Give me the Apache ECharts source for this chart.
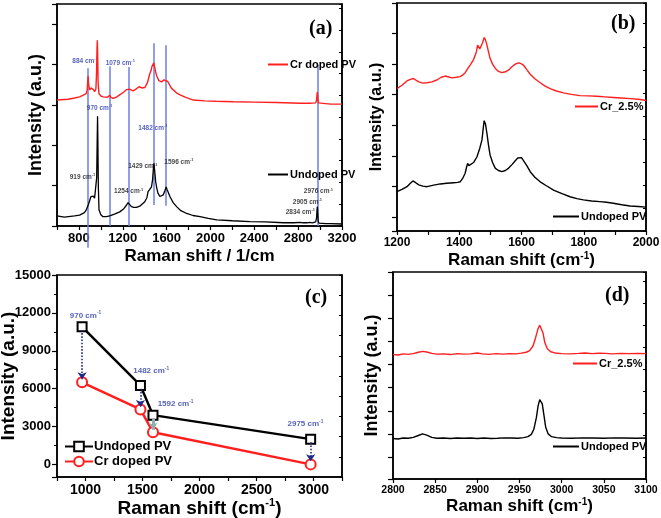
<!DOCTYPE html>
<html><head><meta charset="utf-8">
<script src="https://cdn.jsdelivr.net/npm/echarts@6/dist/echarts.min.js"></script>
<style>html,body{margin:0;padding:0;background:#fff}#c{width:661px;height:518px}</style>
</head><body><div id="c"></div><script>
// ---------- Panel (a): full Raman spectra (arbitrary offset units) ----------
const aUndoped = [[600,0.25],[667,0.22],[760,0.25],[806,0.27],[850,0.33],[867,0.40],[885,0.52],[897,0.62],[910,0.73],[919,0.77],[930,0.74],[943,0.69],[955,0.72],[962,1.2],[967,2.2],[970,2.72],[973,2.1],[977,1.0],[983,0.40],[1000,0.28],[1020,0.23],[1050,0.23],[1081,0.25],[1130,0.30],[1172,0.35],[1210,0.43],[1235,0.52],[1248,0.58],[1258,0.55],[1279,0.48],[1300,0.46],[1325,0.46],[1360,0.50],[1401,0.60],[1420,0.70],[1431,0.85],[1445,0.90],[1462,0.97],[1472,1.15],[1480,1.45],[1484,1.55],[1490,1.40],[1500,1.10],[1508,0.97],[1520,0.82],[1538,0.73],[1555,0.74],[1569,0.77],[1585,0.88],[1596,0.97],[1605,0.90],[1630,0.73],[1660,0.58],[1691,0.48],[1730,0.38],[1783,0.31],[1840,0.26],[1905,0.23],[1980,0.19],[2058,0.15],[2200,0.13],[2362,0.11],[2500,0.10],[2667,0.08],[2760,0.08],[2820,0.09],[2834,0.12],[2845,0.08],[2880,0.08],[2905,0.09],[2930,0.08],[2960,0.10],[2968,0.20],[2972,0.40],[2975,0.48],[2978,0.35],[2983,0.12],[2990,0.07],[3050,0.06],[3095,0.06],[3200,0.05]];
const aDoped = [[600,3.12],[700,3.14],[760,3.17],[806,3.20],[840,3.24],[867,3.28],[876,3.38],[880,3.58],[884,3.71],[888,3.52],[897,3.37],[910,3.42],[921,3.43],[932,3.38],[943,3.33],[955,3.40],[961,3.80],[965,4.40],[968,4.60],[971,4.25],[975,3.55],[983,3.28],[1000,3.22],[1020,3.20],[1060,3.19],[1075,3.21],[1081,3.24],[1090,3.19],[1111,3.16],[1140,3.19],[1172,3.25],[1210,3.32],[1235,3.38],[1248,3.41],[1262,3.39],[1294,3.35],[1320,3.39],[1349,3.45],[1375,3.42],[1401,3.43],[1425,3.55],[1447,3.78],[1458,3.85],[1466,3.95],[1476,3.98],[1483,4.04],[1490,3.95],[1500,3.82],[1508,3.73],[1530,3.60],[1554,3.57],[1575,3.62],[1593,3.66],[1610,3.58],[1645,3.41],[1690,3.30],[1722,3.25],[1780,3.18],[1844,3.12],[1950,3.10],[2050,3.09],[2210,3.08],[2400,3.07],[2600,3.06],[2820,3.04],[2900,3.04],[2960,3.05],[2968,3.12],[2972,3.25],[2975,3.32],[2979,3.18],[2985,3.05],[3000,3.03],[3095,3.02],[3200,3.02]];
const aGuideX = [884, 1079, 1254, 1482, 1596, 2976];
const aGuideTop = [3.91, 3.96, 3.94, 4.53, 4.48, 3.99];
const aGuideBottom = [-0.54, 0, 0, 0.52, 0.50, 0];
const aNoteText = ['884', '1079', '970', '1482', '919', '1429', '1596', '1254', '2976', '2905', '2834'];
const aNoteX = [856, 1177, 989, 1475, 833, 1383, 1712, 1254, 2985, 2885, 2820];
const aNoteY = [4.08, 4.03, 2.93, 2.42, 1.22, 1.47, 1.58, 0.85, 0.85, 0.58, 0.34];
const aNoteBlue = [true, true, true, true, false, false, false, false, false, false, false];

// ---------- Panel (b): 1200-2000 cm-1 zoom ----------
const bDoped = [[1200,4.20],[1216,4.31],[1232,4.45],[1243,4.50],[1253,4.53],[1262,4.47],[1270,4.42],[1283,4.38],[1296,4.39],[1312,4.42],[1328,4.48],[1342,4.57],[1355,4.61],[1366,4.58],[1376,4.55],[1390,4.57],[1403,4.59],[1412,4.65],[1419,4.72],[1427,4.85],[1435,4.97],[1446,5.15],[1455,5.40],[1459,5.62],[1462,5.68],[1466,5.50],[1470,5.46],[1475,5.70],[1480,5.87],[1484,5.80],[1489,5.62],[1494,5.40],[1499,5.19],[1507,5.00],[1516,4.86],[1526,4.76],[1537,4.72],[1548,4.75],[1558,4.80],[1570,4.92],[1580,5.00],[1590,5.04],[1598,5.02],[1606,4.97],[1617,4.82],[1628,4.67],[1643,4.52],[1660,4.39],[1676,4.28],[1692,4.20],[1712,4.12],[1735,4.06],[1760,4.01],[1788,3.97],[1815,3.96],[1842,3.95],[1868,3.93],[1895,3.91],[1922,3.89],[1949,3.87],[1975,3.85],[1997,3.82],[2000,3.82]];
const bUndoped = [[1200,0.83],[1216,0.90],[1232,0.99],[1243,1.10],[1251,1.18],[1260,1.12],[1270,1.05],[1283,1.01],[1296,0.99],[1318,1.04],[1339,1.08],[1360,1.10],[1382,1.12],[1395,1.13],[1403,1.15],[1412,1.28],[1419,1.43],[1424,1.65],[1427,1.75],[1431,1.68],[1435,1.64],[1446,1.78],[1457,1.97],[1466,2.25],[1473,2.52],[1477,2.90],[1480,3.15],[1484,3.05],[1489,2.73],[1494,2.35],[1499,2.03],[1507,1.78],[1516,1.59],[1526,1.52],[1537,1.48],[1548,1.52],[1558,1.59],[1570,1.72],[1580,1.84],[1588,1.93],[1594,1.97],[1600,1.94],[1606,1.88],[1617,1.68],[1628,1.48],[1643,1.30],[1660,1.15],[1680,1.02],[1703,0.88],[1730,0.76],[1756,0.66],[1778,0.60],[1799,0.56],[1825,0.52],[1852,0.50],[1873,0.48],[1895,0.45],[1922,0.40],[1949,0.36],[1975,0.34],[2000,0.32]];

// ---------- Panel (c): peak intensities ----------
const cShift = [970, 1482, 1592, 2975];
const cUndoped = [10900, 6250, 3900, 2000];
const cDoped = [6500, 4350, 2550, 0];
const cArrowEnd = [6750, 4550, 2750, 250];
const cNoteText = ['970', '1482', '1592', '2975'];
const cNoteX = [1000, 1576, 1790, 2929];
const cNoteY = [11780, 7420, 4800, 3210];

// ---------- Panel (d): 2800-3100 cm-1 zoom ----------
const dDoped = [[2800,4.43],[2806,4.41],[2812,4.46],[2818,4.44],[2824,4.47],[2830,4.53],[2835,4.57],[2840,4.54],[2846,4.48],[2852,4.45],[2860,4.46],[2868,4.43],[2876,4.47],[2884,4.45],[2892,4.46],[2900,4.50],[2906,4.46],[2914,4.44],[2922,4.47],[2930,4.45],[2938,4.47],[2946,4.46],[2952,4.49],[2958,4.53],[2962,4.60],[2966,4.80],[2969,5.15],[2972,5.55],[2974,5.70],[2976,5.62],[2978,5.35],[2980,4.95],[2983,4.68],[2987,4.55],[2992,4.50],[3000,4.47],[3010,4.46],[3020,4.48],[3028,4.50],[3036,4.47],[3044,4.49],[3052,4.48],[3060,4.46],[3070,4.48],[3080,4.47],[3090,4.48],[3100,4.47]];
const dUndoped = [[2800,0.80],[2806,0.78],[2812,0.82],[2818,0.81],[2824,0.85],[2830,0.93],[2835,1.00],[2840,0.95],[2846,0.85],[2852,0.81],[2860,0.82],[2868,0.80],[2876,0.82],[2884,0.81],[2892,0.82],[2900,0.80],[2908,0.82],[2916,0.80],[2924,0.81],[2932,0.83],[2940,0.82],[2948,0.81],[2955,0.84],[2960,0.88],[2964,0.98],[2967,1.20],[2970,1.70],[2972,2.20],[2974,2.48],[2975,2.52],[2977,2.30],[2979,1.80],[2981,1.30],[2984,1.00],[2988,0.88],[2994,0.84],[3000,0.82],[3012,0.81],[3025,0.83],[3038,0.82],[3050,0.81],[3062,0.83],[3075,0.82],[3088,0.81],[3100,0.82]];

// ---------- labels ----------
const legendNames = {aD:'Cr doped PV', aU:'Undoped PV', bD:'Cr_2.5%', bU:'Undoped PV', cU:'Undoped PV', cD:'Cr doped PV', dD:'Cr_2.5%', dU:'Undoped PV'};
const panelTags = ['(a)', '(b)', '(c)', '(d)'];

const FONT = '"Liberation Sans", Arial, sans-serif';
const RED = '#ff1f1f';
const GUIDE = 'rgba(110,125,230,0.75)';
const NAVY = '#1c2a8c';

const chart = echarts.init(document.getElementById('c'), null, {renderer: 'canvas'});

const grids = [
  {left: 57, top: 4, width: 285, height: 222},
  {left: 397, top: 3, width: 249, height: 228},
  {left: 57, top: 275, width: 285, height: 202},
  {left: 393, top: 272, width: 253, height: 207}
].map(g => Object.assign({show: true, borderColor: '#000', borderWidth: 1.5, backgroundColor: 'transparent',
  containLabel: false, outerBoundsMode: 'none'}, g));

const supRich = (size, fs) => ({
  s: {fontSize: fs, fontWeight: 'bold', fontFamily: FONT, color: '#000', verticalAlign: 'top', lineHeight: size + 2},
  n: {fontSize: size, fontWeight: 'bold', fontFamily: FONT, color: '#000', lineHeight: size + 2}
});
const axLine = {show: true, onZero: false, lineStyle: {color: '#000', width: 1.5}};
function xAx(gi, min, max, interval, fmt, fs, name, nameGap, nameSize) {
  return {
    gridIndex: gi, type: 'value', min, max, interval,
    axisLine: axLine, splitLine: {show: false},
    axisTick: {show: true, inside: false, length: 4, lineStyle: {color: '#000', width: 1.2}},
    axisLabel: {formatter: fmt, fontSize: fs, fontWeight: 'bold', fontFamily: FONT, color: '#000', margin: 6},
    name, nameLocation: 'middle', nameGap,
    nameTextStyle: {fontSize: nameSize, fontWeight: 'bold', fontFamily: FONT, color: '#000', rich: supRich(nameSize, Math.round(nameSize * 0.6))}
  };
}
function yAxLeft(gi, opts, nameGap, nameSize) {
  return Object.assign({
    gridIndex: gi, type: 'value', position: 'left',
    axisLine: axLine, splitLine: {show: false},
    axisTick: {show: true, inside: false, length: 5, lineStyle: {color: '#000', width: 1.2}},
    axisLabel: {show: false},
    name: 'Intensity (a.u.)', nameLocation: 'middle', nameGap, nameMoveOverlap: false,
    nameTextStyle: {fontSize: nameSize, fontWeight: 'bold', fontFamily: FONT, color: '#000'}
  }, opts);
}
function yAxRight(gi, max) {
  return {
    gridIndex: gi, type: 'value', position: 'right', min: 0, max, interval: 1,
    axisLine: axLine, splitLine: {show: false},
    axisTick: {show: true, inside: true, length: 3, lineStyle: {color: '#000', width: 1}},
    axisLabel: {show: false}
  };
}

const xAxes = [
  xAx(0, 600, 3200, 200, v => ((v - 800) % 400 === 0 ? String(v) : ''), 13, 'Raman shift / 1/cm', 22, 17),
  xAx(1, 1200, 2000, 100, v => (v % 200 === 0 ? String(v) : ''), 12, 'Raman shift (cm{s|-1})', 20, 17),
  xAx(2, 750, 3250, 250, v => (v % 500 === 0 ? String(v) : ''), 14, 'Raman shift (cm{s|-1})', 20, 19),
  xAx(3, 2800, 3100, 50, v => String(v), 10.5, 'Raman shift (cm{s|-1})', 18, 17)
];
const yAxes = [
  yAxLeft(0, {min: 0, max: 5.5, interval: 1}, 12, 18),
  yAxLeft(1, {min: -0.46, max: 7.0, splitNumber: 8}, 12, 16),
  yAxLeft(2, {min: -1000, max: 15000, splitNumber: 5,
    minorTick: {show: true, splitNumber: 2, length: 3, lineStyle: {color: '#000', width: 1}},
    axisLabel: {show: true, showMinLabel: false, formatter: v => String(v), fontSize: 13, fontWeight: 'bold', fontFamily: FONT, color: '#000', margin: 6}}, 39, 19),
  yAxLeft(3, {min: -0.95, max: 8.0, splitNumber: 9}, 12, 18),
  yAxRight(0, 10.2), yAxRight(1, 9.9), yAxRight(2, 10), yAxRight(3, 9.4)
];

const lineSeries = (id, gi, data, color, width) => ({
  type: 'line', name: id, xAxisIndex: gi, yAxisIndex: gi, data, color,
  symbol: 'none', showSymbol: false, smooth: false, animation: false,
  lineStyle: {color, width}
});

const noteLabel = (fs, color) => ({
  show: true, position: 'inside',
  formatter: p => '{n|' + p.data.t + ' cm}{s|-1}',
  rich: {
    n: {fontSize: fs, fontWeight: 'bold', fontFamily: FONT, color, lineHeight: fs + 2},
    s: {fontSize: Math.max(4, fs * 0.6), fontWeight: 'bold', fontFamily: FONT, color, verticalAlign: 'top', lineHeight: fs + 2}
  }
});

const series = [
  // (a)
  lineSeries('aD', 0, aDoped, RED, 1.4),
  lineSeries('aU', 0, aUndoped, '#000', 1.3),
  {type: 'lines', coordinateSystem: 'cartesian2d', xAxisIndex: 0, yAxisIndex: 0, clip: false, animation: false,
    polyline: false, symbol: 'none',
    lineStyle: {color: GUIDE, width: 2, opacity: 1},
    data: aGuideX.map((x, i) => ({coords: [[x, aGuideBottom[i]], [x, aGuideTop[i]]]}))},
  {type: 'scatter', xAxisIndex: 0, yAxisIndex: 0, symbolSize: 0, animation: false, silent: true,
    data: aNoteText.map((t, i) => ({value: [aNoteX[i], aNoteY[i]], t,
      label: noteLabel(6.5, aNoteBlue[i] ? '#2a3aa8' : '#111')})),
    label: noteLabel(6.5, '#111')},
  // (b)
  lineSeries('bD', 1, bDoped, RED, 1.4),
  lineSeries('bU', 1, bUndoped, '#000', 1.4),
  // (c)
  {type: 'line', name: 'cU', xAxisIndex: 2, yAxisIndex: 2, data: cShift.map((x, i) => [x, cUndoped[i]]),
    color: '#000', symbol: 'emptyRect', symbolSize: 9, showSymbol: true, animation: false,
    lineStyle: {color: '#000', width: 2.5}, itemStyle: {color: '#000', borderColor: '#000', borderWidth: 1.5}},
  {type: 'line', name: 'cD', xAxisIndex: 2, yAxisIndex: 2, data: cShift.map((x, i) => [x, cDoped[i]]),
    color: RED, symbol: 'emptyCircle', symbolSize: 10, showSymbol: true, animation: false,
    lineStyle: {color: RED, width: 2.5}, itemStyle: {color: RED, borderColor: RED, borderWidth: 1.5}},
  {type: 'lines', coordinateSystem: 'cartesian2d', xAxisIndex: 2, yAxisIndex: 2, animation: false, z: 5,
    symbol: ['none', 'arrow'], symbolSize: 7,
    data: cShift.map((x, i) => ({coords: [[x, cUndoped[i] - 250], [x, cArrowEnd[i]]],
      lineStyle: i === 2 ? {color: '#8fb0b0', width: 3, type: 'solid'} : {color: NAVY, width: 1.6, type: 'dotted'}})),
    lineStyle: {color: NAVY, width: 1.6, type: 'dotted', opacity: 1}},
  {type: 'scatter', xAxisIndex: 2, yAxisIndex: 2, symbolSize: 0, animation: false, silent: true,
    data: cNoteText.map((t, i) => ({value: [cNoteX[i], cNoteY[i]], t})),
    label: noteLabel(8, '#2a3aa8')},
  // (d)
  lineSeries('dD', 3, dDoped, RED, 1.4),
  lineSeries('dU', 3, dUndoped, '#000', 1.4)
];

const lineLegend = (name, left, top, w) => ({
  data: [name], left, top, padding: 0, icon: 'rect', itemWidth: w, itemHeight: 2, itemGap: 0,
  selectedMode: false, formatter: n => legendNames[n],
  textStyle: {fontSize: 11, fontWeight: 'bold', fontFamily: FONT, color: '#000', padding: [0, 0, 0, -3]}
});

const option = {
  backgroundColor: '#fff',
  animation: false,
  grid: grids,
  xAxis: xAxes,
  yAxis: yAxes,
  title: panelTags.map((t, i) => ({
    text: t, padding: 0,
    left: [309, 611, 305, 605][i], top: [19, 14, 288, 286][i],
    textStyle: {fontFamily: '"Liberation Serif", "Times New Roman", serif', fontWeight: 'bold', fontSize: 20, color: '#000'}
  })),
  legend: [
    lineLegend('aD', 268, 59, 20),
    lineLegend('aU', 268, 169, 20),
    lineLegend('bD', 575, 101, 23),
    lineLegend('bU', 553, 211, 26),
    lineLegend('dD', 573, 358, 24),
    lineLegend('dU', 553, 441, 26),
    {data: ['cU', 'cD'], left: 64, top: 440, orient: 'vertical', padding: 0, itemGap: 2,
      itemWidth: 28, itemHeight: 12, selectedMode: false, formatter: n => legendNames[n],
      textStyle: {fontSize: 13, fontWeight: 'bold', fontFamily: FONT, color: '#000', padding: [0, 0, 0, -4]}}
  ],
  series
};
chart.setOption(option);
</script></body></html>
